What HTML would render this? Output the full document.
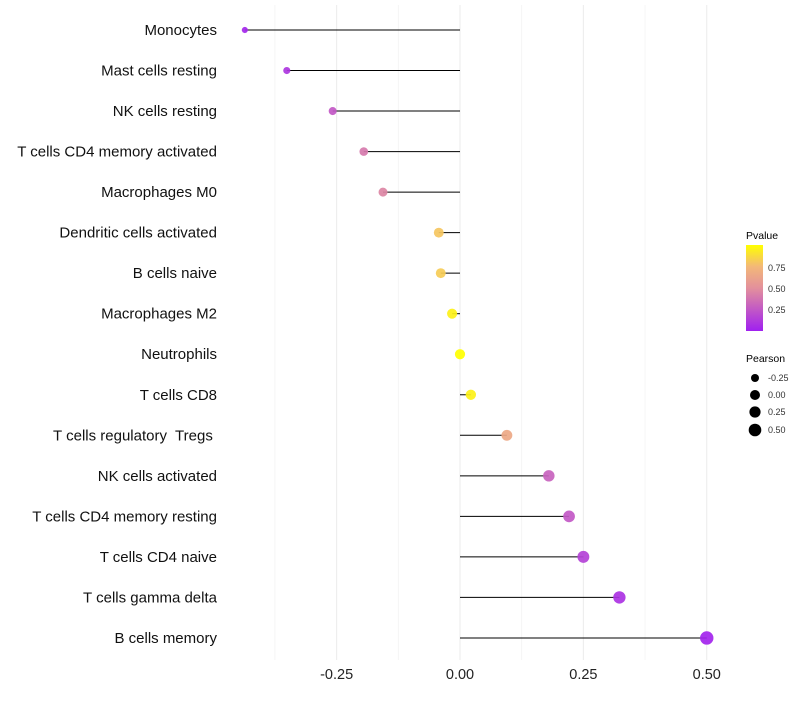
<!DOCTYPE html>
<html><head><meta charset="utf-8"><style>
body{margin:0;background:#fff;font-family:"Liberation Sans",sans-serif;}
</style></head><body>
<svg id="chart" width="800" height="700" xmlns="http://www.w3.org/2000/svg">
<defs><linearGradient id="pg" x1="0" y1="1" x2="0" y2="0">
<stop offset="0" stop-color="#A020F0"/><stop offset="0.5" stop-color="#E3909C"/><stop offset="0.75" stop-color="#F3B878"/><stop offset="1" stop-color="#FFFF00"/></linearGradient></defs>
<g id="grid"></g><g id="marks"></g><g id="labels"></g>
<g font-size="9" fill="#333">
<text x="746" y="239" font-size="10.5" fill="#000">Pvalue</text>
<rect x="746" y="245" width="17" height="86" fill="url(#pg)"/>
<text x="768" y="271">0.75</text>
<text x="768" y="292">0.50</text>
<text x="768" y="313">0.25</text>
<text x="746" y="362" font-size="10.5" fill="#000">Pearson</text>
<circle cx="755" cy="378" r="4" fill="#000"/><text x="768" y="381">-0.25</text>
<circle cx="755" cy="395" r="5" fill="#000"/><text x="768" y="398">0.00</text>
<circle cx="755" cy="412" r="5.6" fill="#000"/><text x="768" y="415">0.25</text>
<circle cx="755" cy="430" r="6.3" fill="#000"/><text x="768" y="433">0.50</text>
</g>
</svg>
<script>
const categories=["Monocytes","Mast cells resting","NK cells resting","T cells CD4 memory activated","Macrophages M0","Dendritic cells activated","B cells naive","Macrophages M2","Neutrophils","T cells CD8","T cells regulatory  Tregs ","NK cells activated","T cells CD4 memory resting","T cells CD4 naive","T cells gamma delta","B cells memory"];
const pearson=[-0.436,-0.351,-0.258,-0.195,-0.156,-0.043,-0.039,-0.016,0.0,0.022,0.095,0.18,0.221,0.25,0.323,0.5];
const pvalues=[0.03,0.1,0.25,0.4,0.45,0.8,0.82,0.95,1.0,0.95,0.65,0.3,0.25,0.15,0.08,0.02];
const xTicks=[-0.25,0,0.25,0.5];
const xTickLabels=["-0.25","0.00","0.25","0.50"];
const xMinor=[-0.375,-0.125,0.125,0.375];
const NS="http://www.w3.org/2000/svg";
const xs=v=>460+v*493.5;
const ys=i=>30+i*40.53;
function col(p){
 const st=[[0,[160,32,240]],[0.5,[227,144,156]],[0.75,[243,184,120]],[1,[255,255,0]]];
 p=Math.max(0,Math.min(1,p));
 for(let k=1;k<st.length;k++){if(p<=st[k][0]){const a=st[k-1],b=st[k],t=(p-a[0])/(b[0]-a[0]);
 return "rgb("+a[1].map((c,j)=>Math.round(c+(b[1][j]-c)*t)).join(",")+")";}}
 return "rgb(255,255,0)";
}
const rad=v=>Math.sqrt(Math.max(4,26+38*v));
function mk(tag,attrs,parent){const e=document.createElementNS(NS,tag);for(const k in attrs)e.setAttribute(k,attrs[k]);document.getElementById(parent).appendChild(e);return e;}
xMinor.forEach(v=>{const l=mk("line",{x1:xs(v),x2:xs(v),y1:5,y2:660,stroke:"#f3f3f3","stroke-width":0.8},"grid");

});
xTicks.forEach((v,i)=>{const l=mk("line",{x1:xs(v),x2:xs(v),y1:5,y2:660,stroke:"#ebebeb","stroke-width":1},"grid");


const t=mk("text",{x:xs(v),y:679,"text-anchor":"middle","font-size":14.5,fill:"#222"},"labels");t.textContent=xTickLabels[i];

});
categories.forEach((c,i)=>{
 const y=ys(i);
 const l=mk("line",{x1:xs(0),x2:xs(pearson[i]),y1:y,y2:y,stroke:"#000","stroke-width":1},"marks");
 
 
 const d=mk("circle",{cx:xs(pearson[i]),cy:y,r:rad(pearson[i]),fill:col(pvalues[i]),"fill-opacity":0.92},"marks");
 
 
 const t=mk("text",{x:217,y:y+5,"text-anchor":"end","font-size":15,fill:"#111","xml:space":"preserve"},"labels");t.textContent=c;
 t.style.whiteSpace="pre";
 
 
});
</script>
</body></html>
